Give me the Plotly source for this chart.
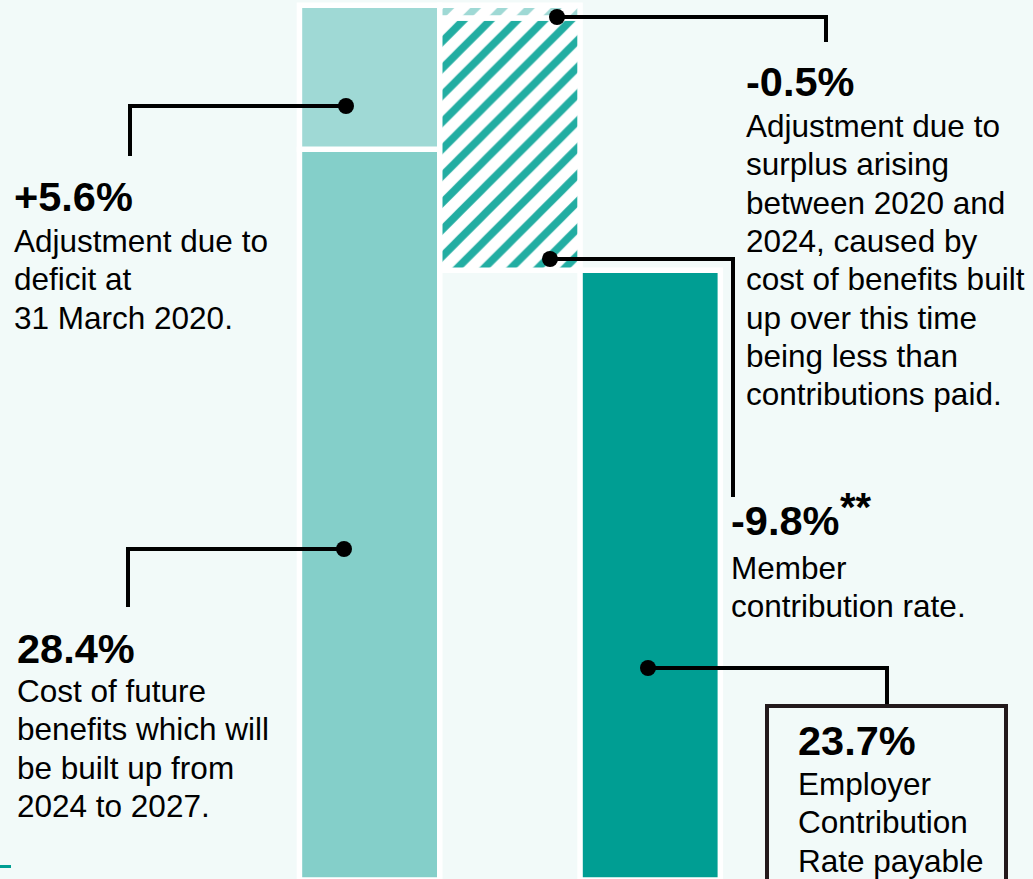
import plotly.graph_objects as go

# ---- data ----
categories = ["Cost of future benefits + deficit", "Adjustments", "Employer rate"]
future_cost = 28.4      # cost of future benefits 2024-2027
deficit_adj = 5.6       # adjustment due to deficit at 31 March 2020
surplus_adj = -0.5      # adjustment due to surplus 2020-2024
member_rate = -9.8      # member contribution rate
employer_rate = 23.7    # employer contribution rate payable

total = future_cost + deficit_adj

W, H = 1033, 879
BG = "#f2faf9"
FONT = "Liberation Sans, Arial, sans-serif"

fig = go.Figure()
line = dict(color="white", width=5.5)

fig.add_trace(go.Bar(x=[0], y=[future_cost], base=[0], width=[1],
                     marker=dict(color="#84cfc9", line=line), name=categories[0]))
fig.add_trace(go.Bar(x=[0], y=[deficit_adj], base=[future_cost], width=[1],
                     marker=dict(color="#9fd9d5", line=line), name=categories[0]))
fig.add_trace(go.Bar(x=[1], y=[-member_rate], base=[total + surplus_adj + member_rate], width=[1],
                     marker=dict(color="white", line=line,
                                 pattern=dict(shape="/", fgcolor="#22ada2", bgcolor="white",
                                              fgopacity=1, size=19, solidity=0.4)),
                     name=categories[1]))
fig.add_trace(go.Bar(x=[1], y=[-surplus_adj], base=[total + surplus_adj], width=[1],
                     marker=dict(color="white", line=line,
                                 pattern=dict(shape="/", fgcolor="#9fd9d5", bgcolor="white",
                                              fgopacity=1, size=19, solidity=0.4)),
                     name=categories[1]))
fig.add_trace(go.Bar(x=[2], y=[employer_rate], base=[0], width=[1],
                     marker=dict(color="#009e93", line=line), name=categories[2]))


def px(x, y):
    return x / W, 1 - y / H


shapes = []


def leader(pts):
    d = ""
    for i, (x, y) in enumerate(pts):
        X, Y = px(x, y)
        d += ("M" if i == 0 else " L") + f"{X:.5f},{Y:.5f}"
    shapes.append(dict(type="path", path=d, xref="paper", yref="paper",
                       line=dict(color="black", width=4)))
    X, Y = px(*pts[0])
    shapes.append(dict(type="circle", xref="paper", yref="paper",
                       xsizemode="pixel", ysizemode="pixel", xanchor=X, yanchor=Y,
                       x0=-8, x1=8, y0=-8, y1=8, fillcolor="black",
                       line=dict(color="black", width=0)))


leader([(346, 106), (130, 106), (130, 156)])
leader([(344, 549), (128, 549), (128, 607)])
leader([(557, 17), (826, 17), (826, 42)])
leader([(550, 259), (733, 259), (733, 497)])
leader([(648, 668), (887, 668), (887, 706)])

# employer box
bx0, by0 = px(767, 706)
bx1, by1 = px(1006, 900)
shapes.append(dict(type="rect", xref="paper", yref="paper", x0=bx0, y0=by1, x1=bx1, y1=by0,
                   line=dict(color="#231a1c", width=4), fillcolor="rgba(0,0,0,0)"))
# small teal tick bottom-left
tx0, ty0 = px(0, 865)
tx1, ty1 = px(11, 868)
shapes.append(dict(type="rect", xref="paper", yref="paper", x0=tx0, y0=ty1, x1=tx1, y1=ty0,
                   line=dict(width=0), fillcolor="#009e93"))

annotations = []


def txt(x, y, s, size=31.5, bold=False):
    X, Y = px(x, y)
    annotations.append(dict(x=X, y=Y, xref="paper", yref="paper", text=s,
                            showarrow=False, xanchor="left", yanchor="middle",
                            font=dict(family=FONT, size=size, color="#000000",
                                      weight="bold" if bold else "normal")))


def block(x, y_head, head, lines, y_first, step=38.3):
    txt(x, y_head, head, size=41.5, bold=True)
    for i, s in enumerate(lines):
        txt(x, y_first + i * step, s)


block(12, 197, f"+{deficit_adj}%", ["Adjustment due to", "deficit at", "31 March 2020."], 241)
block(15, 648, f"{future_cost}%", ["Cost of future", "benefits which will",
                                  "be built up from", "2024 to 2027."], 691)
block(744, 82, f"{surplus_adj}%", ["Adjustment due to", "surplus arising", "between 2020 and",
                                   "2024, caused by", "cost of benefits built",
                                   "up over this time", "being less than",
                                   "contributions paid."], 126)
block(729, 520, f"{member_rate}%", ["Member", "contribution rate."], 568)
txt(838, 507, "**", size=40, bold=True)
block(796, 740, f"{employer_rate}%", ["Employer", "Contribution", "Rate payable"], 784)

px_per = 25.73
fig.update_layout(
    width=W, height=H, margin=dict(l=0, r=0, t=0, b=0),
    paper_bgcolor=BG, plot_bgcolor=BG, showlegend=False,
    barmode="overlay",
    xaxis=dict(range=[(0 - 369.6) / 140.3, (W - 369.6) / 140.3], visible=False, fixedrange=True),
    yaxis=dict(range=[(880 - H) / px_per, 880 / px_per], visible=False, fixedrange=True),
    shapes=shapes, annotations=annotations,
)

fig.write_html("out.html", config={"displayModeBar": False},
               post_script="document.body.style.margin='0';document.body.style.overflow='hidden';")
